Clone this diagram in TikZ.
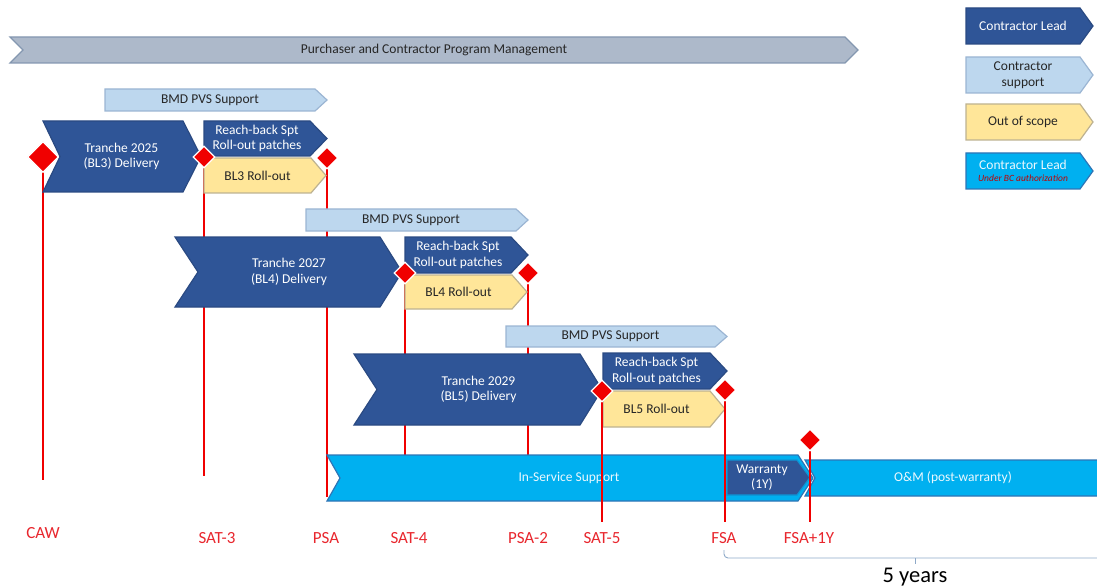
\documentclass[tikz,border=0pt]{standalone}
\usepackage{fontspec}
\setmainfont{Carlito}
\usetikzlibrary{shapes.geometric}

\definecolor{leadblue}{HTML}{2F5597}
\definecolor{leadedge}{HTML}{2A4A82}
\definecolor{suppblue}{HTML}{BDD7EE}
\definecolor{suppedge}{HTML}{9BB5D3}
\definecolor{scopeyel}{HTML}{FFE699}
\definecolor{scopeedge}{HTML}{BDB291}
\definecolor{isscyan}{HTML}{00B0F0}
\definecolor{issedge}{HTML}{2E75B6}
\definecolor{mgmtgray}{HTML}{ADB9CA}
\definecolor{mgmtedge}{HTML}{8497B0}
\definecolor{msred}{HTML}{F00000}
\definecolor{labelred}{HTML}{E8262D}
\definecolor{bracecol}{HTML}{8EA9C8}
\definecolor{darktext}{HTML}{262626}

\tikzset{
  boxfont/.style={font=\fontsize{13.5}{15.5}\selectfont, align=center, inner sep=0pt},
  lead/.style={fill=leadblue, draw=leadedge, line width=1.2pt},
  lead text/.style={boxfont, text=white},
  supp/.style={fill=suppblue, draw=suppedge, line width=1.2pt},
  supp text/.style={boxfont, text=darktext},
  scope/.style={fill=scopeyel, draw=scopeedge, line width=1.2pt},
  scope text/.style={boxfont, text=darktext},
  iss/.style={fill=isscyan, draw=issedge, line width=1.2pt},
  iss text/.style={boxfont, text=white!92!cyan},
  mgmt/.style={fill=mgmtgray, draw=mgmtedge, line width=1.2pt},
  mgmt text/.style={boxfont, text=darktext},
  warr/.style={fill=leadblue, draw=isscyan!70!leadblue, line width=1.2pt},
  warr text/.style={boxfont, text=white},
  milestone/.style={diamond, fill=msred, draw=white, line width=1.2pt,
    minimum width=22pt, minimum height=22pt, inner sep=0pt},
  msline/.style={msred, line width=1.3pt},
  mslabel/.style={text=labelred, font=\fontsize{17}{19}\selectfont, inner sep=0pt},
}

% chevron: style, name, left, top, tip, bottom, notch depth, head depth, text
\newcommand\chev[9]{%
  \draw[#1] (#3,#4) -- ({#5-#8},#4) -- (#5,{(#4+#6)/2}) -- ({#5-#8},#6)
    -- (#3,#6) -- ({#3+#7},{(#4+#6)/2}) -- cycle;
  \node[#1 text] (#2) at ({(#3+#7+#5-#8)/2},{(#4+#6)/2}) {#9};
}

\begin{document}
\begin{tikzpicture}[x=1pt, y=-1pt]
\useasboundingbox (0,0) rectangle (1097,588);
\clip (0,0) rectangle (1097,588);

% milestone positions and the ends of their drop lines
\coordinate (mCAW)  at (43,157);  \coordinate (eCAW)  at (43,480);
\coordinate (mSAT3) at (204,157); \coordinate (eSAT3) at (204,476);
\coordinate (mPSA)  at (327,158); \coordinate (ePSA)  at (327,497);
\coordinate (mSAT4) at (405,273); \coordinate (eSAT4) at (405,470);
\coordinate (mPSA2) at (528,273); \coordinate (ePSA2) at (528,470);
\coordinate (mSAT5) at (602,391); \coordinate (eSAT5) at (602,522);
\coordinate (mFSA)  at (725,390); \coordinate (eFSA)  at (725,522);
\coordinate (mFSA1) at (810,440); \coordinate (eFSA1) at (810,522);

% drop lines that run behind the bars
\foreach \m in {CAW,SAT3,PSA,SAT4,PSA2}
  \draw[msline] (m\m) -- (e\m);

% programme management
\chev{mgmt}{pm}{10}{37}{858}{63}{13}{13}{Purchaser and Contractor Program Management}

% tranche 2025
\chev{supp}{pvs1}{105}{89}{327}{111}{0}{12}{BMD PVS Support}
\chev{lead}{t25}{43}{121}{201}{192}{17}{18}{Tranche 2025\\(BL3) Delivery}
\chev{lead}{rb1}{204}{121}{327}{156}{0}{17}{Reach-back Spt\\Roll-out patches}
\chev{scope}{ro3}{204}{158}{326}{193}{0}{15}{BL3 Roll-out}

% tranche 2027
\chev{supp}{pvs2}{306}{209}{528}{231}{0}{12}{BMD PVS Support}
\chev{lead}{t27}{175}{237}{402}{307}{23}{22}{Tranche 2027\\(BL4) Delivery}
\chev{lead}{rb2}{405}{237}{528}{273}{0}{17}{Reach-back Spt\\Roll-out patches}
\chev{scope}{ro4}{405}{275}{527}{309}{0}{15}{BL4 Roll-out}

% tranche 2029
\chev{supp}{pvs3}{506}{326}{727}{347}{0}{12}{BMD PVS Support}
\chev{lead}{t29}{354}{354}{602}{425}{23}{22}{Tranche 2029\\(BL5) Delivery}
\chev{lead}{rb3}{603}{353}{727}{389}{0}{17}{Reach-back Spt\\Roll-out patches}
\chev{scope}{ro5}{603}{391}{725}{427}{0}{15}{BL5 Roll-out}

% in-service support, warranty, O&M
\chev{iss}{isup}{327}{455}{813}{501}{13}{15}{In-Service Support}
\chev{warr}{warranty}{727}{460}{810}{495}{0}{13}{Warranty\\(1Y)}
\draw[iss] (805,460) -- (1100,460) -- (1100,496) -- (805,496) -- (815,478) -- cycle;
\node[iss text] (om) at (953,478) {O\&M (post-warranty)};

% drop lines drawn over the support bar
\foreach \m in {SAT5,FSA,FSA1}
  \draw[msline] (m\m) -- (e\m);

% milestone diamonds
\node[milestone, minimum width=31pt, minimum height=31pt] (dCAW) at (mCAW) {};
\foreach \m in {SAT3,PSA,SAT4,PSA2,SAT5,FSA,FSA1}
  \node[milestone] (d\m) at (m\m) {};

% milestone labels
\node[mslabel] (lCAW)  at (43,533)  {CAW};
\node[mslabel] (lSAT3) at (217,538) {SAT-3};
\node[mslabel] (lPSA)  at (326,538) {PSA};
\node[mslabel] (lSAT4) at (409,538) {SAT-4};
\node[mslabel] (lPSA2) at (528,538) {PSA-2};
\node[mslabel] (lSAT5) at (602,538) {SAT-5};
\node[mslabel] (lFSA)  at (724,538) {FSA};
\node[mslabel] (lFSA1) at (809,538) {FSA+1Y};

% five-year span after FSA
\coordinate (bL) at (724,550);
\coordinate (bM) at (915,558);
\coordinate (bR) at (1100,558);
\draw[bracecol, line width=0.9pt, rounded corners=4pt] (bL) -- (724,558) -- (bR);
\draw[bracecol, line width=0.9pt] (bM) -- (915,564);
\node[font=\fontsize{22.5}{25}\selectfont, text=black, inner sep=0pt] (span) at (915,577) {5 years};

% legend
\chev{lead}{kLead}{966}{8}{1093}{44}{0}{13}{Contractor Lead}
\chev{supp}{kSupp}{966}{57}{1093}{93}{0}{13}{Contractor\\support}
\chev{scope}{kScope}{966}{104}{1093}{140}{0}{13}{Out of scope}
\chev{iss}{kBC}{966}{153}{1093}{189}{0}{13}{Contractor Lead\\[-3pt]{\fontsize{9.5}{10}\selectfont\itshape\color{red!75!black}Under BC authorization}}
\end{tikzpicture}
\end{document}
